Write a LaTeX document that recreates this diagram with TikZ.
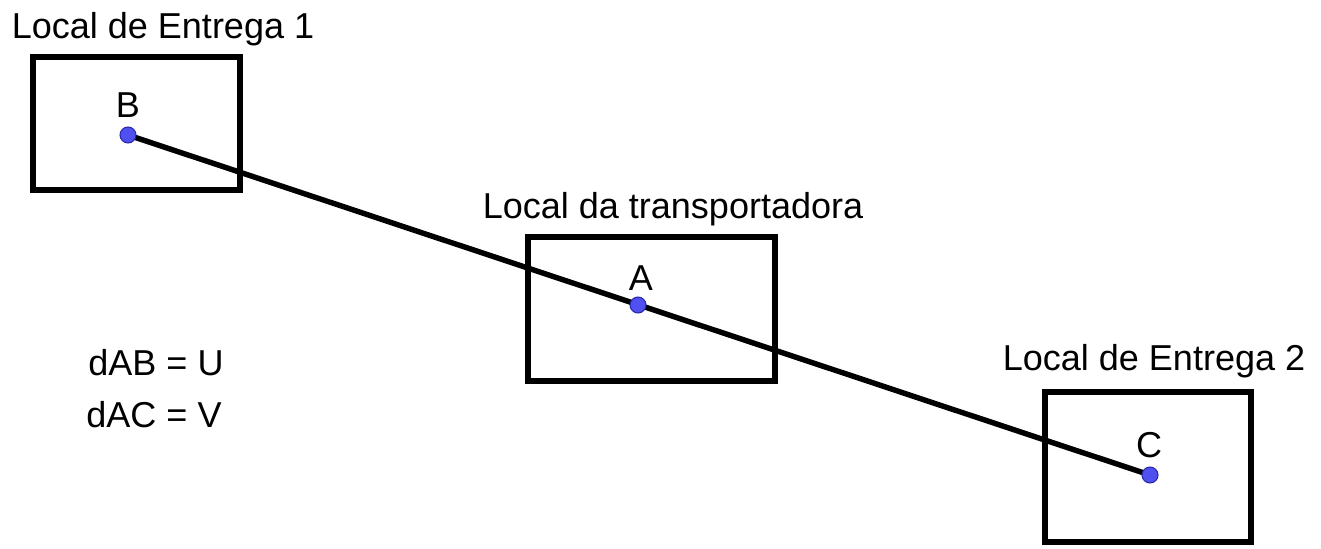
\documentclass[tikz,border=0pt]{standalone}
\usepackage{fontspec}
\setmainfont{Liberation Sans}
\usetikzlibrary{positioning}
\definecolor{pontoazul}{RGB}{80,80,240}
\definecolor{bordaazul}{RGB}{40,40,170}
\begin{document}
\begin{tikzpicture}[x=0.02cm, y=-0.02cm, font=\fontsize{20.5}{24}\selectfont]
    \tikzstyle{local} = [rectangle, draw, line width=3.3pt, inner sep=0pt]
    \tikzstyle{ponto} = [circle, fill=pontoazul, draw=bordaazul, line width=0.6pt, minimum size=0.32cm, inner sep=0pt]
    \tikzstyle{texto} = [anchor=base, inner sep=0pt]
    \tikzstyle{ligacao} = [draw, line width=3.1pt]

    \useasboundingbox (0,0) rectangle (1321,548);

    \node [local, minimum width=4.14cm, minimum height=2.66cm] (entrega1) at (136.5,123.5) {};
    \node [local, minimum width=4.94cm, minimum height=2.88cm] (transp) at (651.5,309) {};
    \node [local, minimum width=4.12cm, minimum height=3.0cm] (entrega2) at (1148,467) {};

    \node [texto] (rot1) at (163,38) {Local de Entrega 1};
    \node [texto] (rot2) at (673,218) {Local da transportadora};
    \node [texto] (rot3) at (1154,370) {Local de Entrega 2};

    \coordinate (B) at (128,135);
    \coordinate (A) at (638,305);
    \coordinate (C) at (1150,475);

    \draw [ligacao] (B) -- (C);

    \node [ponto] (pB) at (B) {};
    \node [ponto] (pA) at (A) {};
    \node [ponto] (pC) at (C) {};

    \node [texto] (nB) at (128,117) {B};
    \node [texto] (nA) at (641,290) {A};
    \node [texto] (nC) at (1149,457) {C};

    \node [texto] (dab) at (156,375) {dAB = U};
    \node [texto] (dac) at (154,427) {dAC = V};
\end{tikzpicture}
\end{document}
